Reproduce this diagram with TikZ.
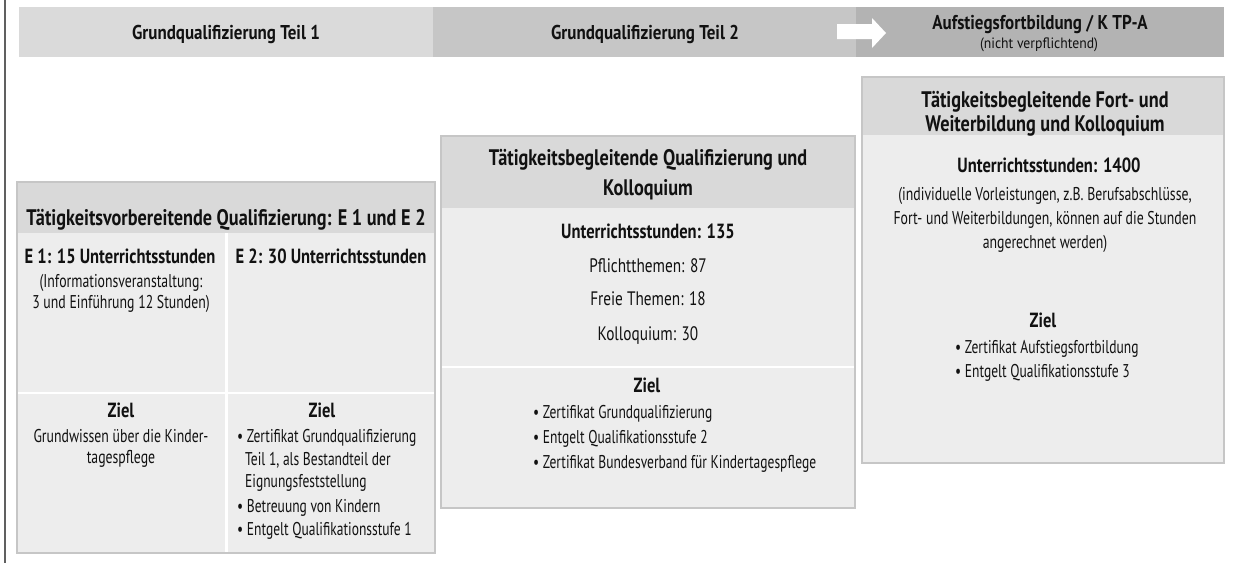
\documentclass[tikz,border=0pt]{standalone}
\usepackage{graphicx}
\usepackage{fontspec}
\setmainfont{PT Sans}
\definecolor{banA}{HTML}{DADADA}
\definecolor{banB}{HTML}{C6C6C6}
\definecolor{banC}{HTML}{B3B3B3}
\definecolor{hdr}{HTML}{D9D9D9}
\definecolor{bdy}{HTML}{EDEDED}
\definecolor{edge}{HTML}{C6C6C6}
\definecolor{txtc}{HTML}{111111}
\definecolor{rulec}{HTML}{606060}
\def\Sban{20}\def\Sbansm{15}\def\Shd{22.5}\def\Ssub{20.5}\def\Sbody{19.5}\def\Spara{18.5}\def\Sblt{18.5}
\newlength\fitw
\newcommand\fitx[5]{%
  \settowidth\fitw{\normalfont#2\fontsize{#3}{#3}\selectfont #4}%
  \pgfmathsetmacro\fitres{#5/\fitw}\global\let#1\fitres}
\newcommand\sx[2]{\scalebox{#1}[1]{#2}}
\AtBeginDocument{%
\fitx{\Xban}{\bfseries}{\Sban}{Grundqualifizierung Teil 1Grundqualifizierung Teil 2Aufstiegsfortbildung / K TP-A}{591}%
\fitx{\Xbansm}{}{\Sbansm}{(nicht verpflichtend)}{118}%
\fitx{\Xhd}{\bfseries}{\Shd}{Tätigkeitsvorbereitende Qualifizierung: E 1 und E 2Tätigkeitsbegleitende Qualifizierung undTätigkeitsbegleitende Fort- undWeiterbildung und Kolloquium}{1204}%
\fitx{\Xsub}{\bfseries}{\Ssub}{E 1: 15 UnterrichtsstundenE 2: 30 UnterrichtsstundenUnterrichtsstunden: 135Unterrichtsstunden: 1400}{738}%
\fitx{\Xbody}{}{\Sbody}{Pflichtthemen: 87Kolloquium: 30}{218}%
\fitx{\Xpara}{}{\Spara}{(Informationsveranstaltung:3 und Einführung 12 Stunden)Grundwissen über die Kinder-(individuelle Vorleistungen, z.B. Berufsabschlüsse,angerechnet werden)}{933}%
\fitx{\Xblt}{}{\Sblt}{• Zertifikat Grundqualifizierung• Zertifikat Bundesverband für Kindertagespflege• Zertifikat Aufstiegsfortbildung• Entgelt Qualifikationsstufe 3}{820}%
}
\begin{document}
\begin{tikzpicture}[x=1pt,y=-1pt,
  t/.style={anchor=base, inner sep=0pt, text=txtc},
  tw/.style={t, anchor=base west},
  ban/.style={t, font=\bfseries\fontsize{\Sban}{\Sban}\selectfont},
  bansm/.style={t, font=\fontsize{\Sbansm}{\Sbansm}\selectfont},
  hd/.style={t, font=\bfseries\fontsize{\Shd}{\Shd}\selectfont},
  sub/.style={t, font=\bfseries\fontsize{\Ssub}{\Ssub}\selectfont},
  body/.style={t, font=\fontsize{\Sbody}{\Sbody}\selectfont},
  para/.style={t, font=\fontsize{\Spara}{\Spara}\selectfont},
  blt/.style={tw, font=\fontsize{\Sblt}{\Sblt}\selectfont},
  hdrfill/.style={fill=hdr},
  bdyfill/.style={fill=bdy},
  boxedge/.style={draw=edge, line width=1.2pt},
  sep/.style={draw=white, line width=2pt}
]
\useasboundingbox (0,0) rectangle (1235,563);
% left rule
\draw[rulec, line width=2pt] (5,0) -- (5,563);
% banner
\fill[banA] (19,7) rectangle (433,57);
\fill[banB] (433,7) rectangle (856,57);
\fill[banC] (856,7) rectangle (1224,57);
\fill[white] (837,24) -- (872,24) -- (872,18) -- (886,33) -- (872,48) -- (872,39) -- (837,39) -- cycle;
\node[ban] (b1) at (226,39) {\sx\Xban{Grundqualifizierung Teil 1}};
\node[ban] (b2) at (645,39) {\sx\Xban{Grundqualifizierung Teil 2}};
\node[ban] (b3) at (1040,29) {\sx\Xban{Aufstiegsfortbildung / K TP-A}};
\node[bansm] (b3s) at (1039,48) {\sx\Xbansm{(nicht verpflichtend)}};

% box A
\fill[bdyfill] (17,233) rectangle (435,553);
\fill[hdrfill] (17,182) rectangle (435,233);
\draw[sep, line width=3pt] (226,233) -- (226,553);
\draw[sep] (17,393) -- (435,393);
\draw[boxedge] (17,182) rectangle (435,553);
\node[hd] (ah) at (226,225) {\sx\Xhd{Tätigkeitsvorbereitende Qualifizierung: E 1 und E 2}};
\node[sub] (a1) at (120,263) {\sx\Xsub{E 1: 15 Unterrichtsstunden}};
\node[para] (a1p1) at (121,287) {\sx\Xpara{(Informationsveranstaltung:}};
\node[para] (a1p2) at (121,308) {\sx\Xpara{3 und Einführung 12 Stunden)}};
\node[sub] (a2) at (331,263) {\sx\Xsub{E 2: 30 Unterrichtsstunden}};
\node[sub] (az1) at (121,417) {\sx\Xsub{Ziel}};
\node[para] (az1a) at (121,442) {\sx\Xpara{Grundwissen über die Kinder-}};
\node[para] (az1b) at (121,463) {\sx\Xpara{tagespflege}};
\node[sub] (az2) at (322,417) {\sx\Xsub{Ziel}};
\node[blt] (az2a) at (237,442) {\sx\Xblt{• Zertifikat Grundqualifizierung}};
\node[blt] (az2b) at (245,465) {\sx\Xblt{Teil 1, als Bestandteil der}};
\node[blt] (az2c) at (245,487) {\sx\Xblt{Eignungsfeststellung}};
\node[blt] (az2d) at (237,512) {\sx\Xblt{• Betreuung von Kindern}};
\node[blt] (az2e) at (237,535) {\sx\Xblt{• Entgelt Qualifikationsstufe 1}};

% box B
\fill[bdyfill] (441,208) rectangle (855,508);
\fill[hdrfill] (441,136) rectangle (855,208);
\draw[sep] (441,367) -- (855,367);
\draw[boxedge] (441,136) rectangle (855,508);
\node[hd] (bh1) at (648,165) {\sx\Xhd{Tätigkeitsbegleitende Qualifizierung und}};
\node[hd] (bh2) at (648,195) {\sx\Xhd{Kolloquium}};
\node[sub] (bu) at (648,238) {\sx\Xsub{Unterrichtsstunden: 135}};
\node[body] (bp1) at (648,272) {\sx\Xbody{Pflichtthemen: 87}};
\node[body] (bp2) at (648,305) {\sx\Xbody{Freie Themen: 18}};
\node[body] (bp3) at (648,340) {\sx\Xbody{Kolloquium: 30}};
\node[sub] (bz) at (647,392) {\sx\Xsub{Ziel}};
\node[blt] (bz1) at (533,418) {\sx\Xblt{• Zertifikat Grundqualifizierung}};
\node[blt] (bz2) at (533,443) {\sx\Xblt{• Entgelt Qualifikationsstufe 2}};
\node[blt] (bz3) at (533,468) {\sx\Xblt{• Zertifikat Bundesverband für Kindertagespflege}};

% box C
\fill[bdyfill] (862,135) rectangle (1224,463);
\fill[hdrfill] (862,77) rectangle (1224,135);
\draw[boxedge] (862,77) rectangle (1224,463);
\node[hd] (ch1) at (1045,107) {\sx\Xhd{Tätigkeitsbegleitende Fort- und}};
\node[hd] (ch2) at (1045,131) {\sx\Xhd{Weiterbildung und Kolloquium}};
\node[sub] (cu) at (1049,172) {\sx\Xsub{Unterrichtsstunden: 1400}};
\node[para] (cp1) at (1045,200) {\sx\Xpara{(individuelle Vorleistungen, z.B. Berufsabschlüsse,}};
\node[para] (cp2) at (1045,224) {\sx\Xpara{Fort- und Weiterbildungen, können auf die Stunden}};
\node[para] (cp3) at (1045,248) {\sx\Xpara{angerechnet werden)}};
\node[sub] (cz) at (1043,327) {\sx\Xsub{Ziel}};
\node[blt] (cz1) at (955,353) {\sx\Xblt{• Zertifikat Aufstiegsfortbildung}};
\node[blt] (cz2) at (955,377) {\sx\Xblt{• Entgelt Qualifikationsstufe 3}};
\end{tikzpicture}
\end{document}
